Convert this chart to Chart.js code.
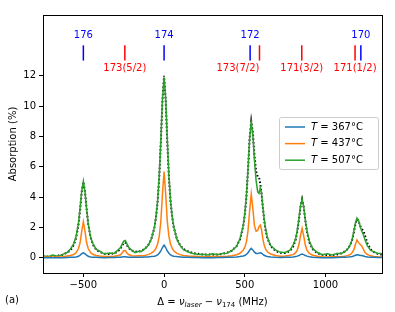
<!DOCTYPE html>
<html>
<head>
<meta charset="utf-8">
<script src="https://cdn.jsdelivr.net/npm/chart.js@4"></script>
<style>
    html, body { margin: 0; padding: 0; background: #fff; }
    canvas { display: block; }
</style>
</head>
<body>
<canvas id="absorptionChart" width="395" height="312"></canvas>
<script>
// detuning from the 174 line (MHz), shared by every curve
const detuning = [
    -750, -720, -690, -660, -630, -600, -580,
    -560, -545, -530, -520, -510, -500, -490, -480, -470, -455, -440, -420,
    -400, -370, -340, -310, -290,
    -270, -260, -250, -240, -230, -220, -200,
    -180, -160, -140, -120,
    -100, -80, -60, -50, -40, -30, -20, -10,
    0,
    10, 20, 30, 40, 50, 60, 80, 100,
    120, 150, 180, 210, 240, 270, 300, 330, 360, 390, 420, 450,
    470, 490, 500, 510, 520, 530,
    540,
    550, 560, 570, 580, 588, 596, 604, 612, 620, 630, 640, 660, 690,
    720, 750, 780,
    800, 815, 825, 835, 845, 855, 865, 875, 885, 900, 920,
    950, 980, 1010, 1040, 1070, 1100, 1120,
    1140, 1155, 1165, 1175, 1185, 1195, 1205, 1215, 1225, 1235, 1245, 1260, 1280,
    1300, 1325, 1350
];

// absorption (%) at T = 367 °C
const absorption367 = [
    0.00, 0.01, 0.00, 0.01, 0.01, 0.02, 0.03,
    0.04, 0.06, 0.10, 0.17, 0.27, 0.33, 0.27, 0.17, 0.10, 0.06, 0.04, 0.03,
    0.02, 0.01, 0.02, 0.02, 0.03,
    0.04, 0.06, 0.07, 0.07, 0.06, 0.04, 0.03,
    0.03, 0.03, 0.04, 0.05,
    0.06, 0.08, 0.11, 0.14, 0.19, 0.30, 0.45, 0.68,
    0.84,
    0.68, 0.45, 0.30, 0.19, 0.14, 0.11, 0.08, 0.06,
    0.04, 0.03, 0.02, 0.02, 0.01, 0.02, 0.01, 0.02, 0.02, 0.03, 0.04, 0.06,
    0.08, 0.12, 0.15, 0.22, 0.33, 0.50,
    0.62,
    0.52, 0.37, 0.29, 0.28, 0.31, 0.33, 0.30, 0.23, 0.17, 0.12, 0.09, 0.05, 0.03,
    0.02, 0.03, 0.04,
    0.06, 0.08, 0.11, 0.15, 0.21, 0.25, 0.21, 0.15, 0.11, 0.07, 0.04,
    0.02, 0.01, 0.01, 0.01, 0.02, 0.03, 0.04,
    0.05, 0.07, 0.09, 0.12, 0.17, 0.20, 0.19, 0.16, 0.15, 0.12, 0.09, 0.06, 0.04,
    0.03, 0.02, 0.02
];

// absorption (%) at T = 437 °C
const absorption437 = [
    0.05, 0.04, 0.06, 0.05, 0.07, 0.12, 0.15,
    0.22, 0.34, 0.61, 1.01, 1.76, 2.38, 1.76, 1.01, 0.61, 0.34, 0.22, 0.15,
    0.12, 0.09, 0.08, 0.10, 0.13,
    0.20, 0.31, 0.47, 0.48, 0.32, 0.22, 0.14,
    0.12, 0.13, 0.13, 0.16,
    0.21, 0.29, 0.46, 0.63, 0.91, 1.41, 2.40, 4.21,
    5.68,
    4.21, 2.40, 1.41, 0.91, 0.63, 0.46, 0.29, 0.21,
    0.16, 0.12, 0.10, 0.08, 0.07, 0.07, 0.08, 0.08, 0.09, 0.11, 0.14, 0.20,
    0.30, 0.50, 0.68, 1.05, 1.78, 3.10,
    4.20,
    3.25, 2.10, 1.75, 1.80, 2.05, 2.16, 1.85, 1.25, 0.85, 0.55, 0.40, 0.25, 0.15,
    0.11, 0.12, 0.17,
    0.21, 0.34, 0.51, 0.84, 1.45, 1.94, 1.45, 0.84, 0.51, 0.29, 0.17,
    0.10, 0.07, 0.06, 0.07, 0.07, 0.09, 0.11,
    0.16, 0.23, 0.34, 0.52, 0.88, 1.18, 1.00, 0.88, 0.78, 0.55, 0.35, 0.21, 0.13,
    0.09, 0.07, 0.06
];

// absorption (%) at T = 507 °C (noisy measurement)
const absorption507 = [
    0.14, 0.07, 0.18, 0.10, 0.21, 0.36, 0.58,
    0.92, 1.40, 2.30, 3.30, 4.40, 5.05, 4.35, 3.25, 2.25, 1.35, 0.92, 0.55,
    0.45, 0.25, 0.32, 0.29, 0.47,
    0.68, 0.90, 1.10, 1.14, 0.92, 0.70, 0.49,
    0.34, 0.43, 0.42, 0.59,
    0.80, 1.20, 2.00, 2.70, 3.75, 5.40, 7.75, 10.45,
    11.90,
    10.50, 7.80, 5.40, 3.80, 2.75, 2.05, 1.20, 0.80,
    0.54, 0.38, 0.29, 0.22, 0.23, 0.19, 0.26, 0.20, 0.29, 0.30, 0.48, 0.76,
    1.25, 2.10, 2.90, 4.10, 5.85, 7.85,
    8.95,
    8.10, 6.40, 5.10, 4.35, 4.25, 4.60, 4.25, 3.35, 2.55, 1.85, 1.35, 0.80, 0.52,
    0.36, 0.35, 0.50,
    0.85, 1.25, 1.80, 2.55, 3.40, 3.88, 3.35, 2.50, 1.80, 1.10, 0.62,
    0.35, 0.20, 0.27, 0.18, 0.28, 0.29, 0.40,
    0.61, 0.90, 1.22, 1.72, 2.28, 2.62, 2.45, 2.06, 1.75, 1.50, 1.17, 0.79, 0.49,
    0.40, 0.28, 0.29
];

// fitted model for T = 507 °C (black dotted)
const fit507 = [
    0.06, 0.08, 0.10, 0.14, 0.20, 0.34, 0.50,
    0.83, 1.31, 2.21, 3.20, 4.35, 5.00, 4.37, 3.23, 2.24, 1.34, 0.86, 0.53,
    0.39, 0.27, 0.25, 0.29, 0.39,
    0.60, 0.80, 0.99, 1.01, 0.83, 0.64, 0.48,
    0.41, 0.40, 0.46, 0.60,
    0.80, 1.20, 1.98, 2.67, 3.70, 5.28, 7.62, 10.37,
    12.00,
    10.40, 7.65, 5.30, 3.72, 2.70, 2.00, 1.22, 0.82,
    0.58, 0.42, 0.31, 0.27, 0.22, 0.22, 0.21, 0.22, 0.26, 0.34, 0.47, 0.78,
    1.20, 2.05, 2.83, 4.00, 5.78, 7.88,
    9.00,
    8.25, 6.75, 5.70, 5.35, 5.30, 4.90, 4.20, 3.30, 2.50, 1.75, 1.28, 0.78, 0.46,
    0.33, 0.32, 0.45,
    0.75, 1.20, 1.72, 2.47, 3.35, 3.85, 3.35, 2.47, 1.72, 1.02, 0.58,
    0.30, 0.20, 0.17, 0.18, 0.22, 0.30, 0.42,
    0.60, 0.88, 1.18, 1.65, 2.20, 2.55, 2.42, 2.10, 1.90, 1.78, 1.45, 0.95, 0.55,
    0.38, 0.26, 0.20
];

const temperatures = ['367', '437', '507'];

// bosonic isotope lines (blue) and 173/171 hyperfine lines (red), MHz
const isotopeNames = ['176', '174', '172', '170'];
const isotopeShifts = [-500, 0, 533, 1219];
const hyperfineNames = ['173(5/2)', '173(7/2)', '171(3/2)', '171(1/2)'];
const hyperfineShifts = [-243, 591, 853, 1183];

const xTicks = [-500, 0, 500, 1000];
const yTicks = [0, 2, 4, 6, 8, 10, 12];

const FONT = '"DejaVu Sans", sans-serif';
const COLORS = ['#1f77b4', '#ff7f0e', '#2ca02c'];

function toPoints(ys) {
    return detuning.map((x, i) => ({ x: x, y: ys[i] }));
}

// draws a run of text pieces (font / vertical offset each), centred on cx or starting at it
function drawPieces(ctx, pieces, cx, y, align) {
    ctx.textAlign = 'left';
    let total = 0;
    pieces.forEach(p => { ctx.font = p.font; total += ctx.measureText(p.text).width; });
    let x = align === 'left' ? cx : cx - total / 2;
    pieces.forEach(p => {
        ctx.font = p.font;
        ctx.fillText(p.text, x, y + (p.dy || 0));
        x += ctx.measureText(p.text).width;
    });
}

const decorations = {
    id: 'decorations',
    afterDatasetsDraw(chart) {
        const ctx = chart.ctx;
        const xs = chart.scales.x;
        const ys = chart.scales.y;
        const area = chart.chartArea;
        ctx.save();

        // marker ticks for the isotopes
        ctx.lineWidth = 1.5;
        ctx.textBaseline = 'middle';
        ctx.font = '10px ' + FONT;
        isotopeShifts.forEach((s, i) => {
            const px = xs.getPixelForValue(s);
            ctx.strokeStyle = '#0000ff';
            ctx.beginPath();
            ctx.moveTo(px, ys.getPixelForValue(13));
            ctx.lineTo(px, ys.getPixelForValue(14));
            ctx.stroke();
            ctx.fillStyle = '#0000ff';
            ctx.textAlign = 'center';
            ctx.fillText(isotopeNames[i], px, ys.getPixelForValue(14.65));
        });
        hyperfineShifts.forEach((s, i) => {
            const px = xs.getPixelForValue(s);
            ctx.strokeStyle = '#ff0000';
            ctx.beginPath();
            ctx.moveTo(px, ys.getPixelForValue(13));
            ctx.lineTo(px, ys.getPixelForValue(14));
            ctx.stroke();
            ctx.fillStyle = '#ff0000';
            // 173(7/2) sits right next to 172, so its label ends at the line
            ctx.textAlign = hyperfineNames[i] === '173(7/2)' ? 'right' : 'center';
            ctx.fillText(hyperfineNames[i], px, ys.getPixelForValue(12.5));
        });

        // legend box
        const lx = 279.5, ly = 117.5, lw = 99, lh = 52;
        ctx.beginPath();
        ctx.roundRect(lx, ly, lw, lh, 2);
        ctx.fillStyle = 'rgba(255,255,255,0.8)';
        ctx.fill();
        ctx.strokeStyle = '#cccccc';
        ctx.lineWidth = 1;
        ctx.stroke();
        temperatures.forEach((t, i) => {
            const y = 127 + i * 16.6;
            ctx.strokeStyle = COLORS[i];
            ctx.lineWidth = 1.5;
            ctx.beginPath();
            ctx.moveTo(285, y);
            ctx.lineTo(305, y);
            ctx.stroke();
            ctx.fillStyle = '#000';
            ctx.textBaseline = 'middle';
            drawPieces(ctx, [
                { text: 'T', font: 'italic 10px ' + FONT },
                { text: ' = ' + t + '\u00b0C', font: '10px ' + FONT }
            ], 311, y, 'left');
        });

        // axes frame
        ctx.strokeStyle = '#000';
        ctx.lineWidth = 1;
        ctx.strokeRect(Math.round(area.left) + 0.5, Math.round(area.top) + 0.5,
            Math.round(area.right - area.left), Math.round(area.bottom - area.top));

        // axis titles
        ctx.fillStyle = '#000';
        ctx.textBaseline = 'alphabetic';
        drawPieces(ctx, [
            { text: '\u0394 = ', font: '10px ' + FONT },
            { text: '\u03bd', font: 'italic 10px ' + FONT },
            { text: 'laser', font: 'italic 7px ' + FONT, dy: 2 },
            { text: ' \u2212 ', font: '10px ' + FONT },
            { text: '\u03bd', font: 'italic 10px ' + FONT },
            { text: '174', font: '7px ' + FONT, dy: 2 },
            { text: ' (MHz)', font: '10px ' + FONT }
        ], (area.left + area.right) / 2, 305);

        ctx.save();
        ctx.translate(13, (area.top + area.bottom) / 2);
        ctx.rotate(-Math.PI / 2);
        ctx.textAlign = 'center';
        ctx.textBaseline = 'middle';
        ctx.font = '10px ' + FONT;
        ctx.fillText('Absorption (%)', 0, 0);
        ctx.restore();

        ctx.textAlign = 'left';
        ctx.textBaseline = 'middle';
        ctx.font = '10px ' + FONT;
        ctx.fillText('(a)', 5, 300);
        ctx.restore();
    }
};

function tickLabel(v) {
    return String(v).replace('-', '\u2212');
}

const chartEl = document.getElementById('absorptionChart').getContext('2d');

const lineStyle = { pointRadius: 0, borderWidth: 1.5, tension: 0, fill: false };

new Chart(chartEl, {
    type: 'line',
    data: {
        datasets: [
            Object.assign({ label: 'T = 367°C', data: toPoints(absorption367), borderColor: COLORS[0] }, lineStyle),
            Object.assign({ label: 'T = 437°C', data: toPoints(absorption437), borderColor: COLORS[1] }, lineStyle),
            Object.assign({ label: 'T = 507°C', data: toPoints(absorption507), borderColor: COLORS[2] }, lineStyle),
            Object.assign({ label: 'fit', data: toPoints(fit507), borderColor: '#000000', borderDash: [1.5, 2.2] }, lineStyle, { borderWidth: 2 })
        ]
    },
    options: {
        responsive: false,
        animation: false,
        devicePixelRatio: 1,
        layout: { padding: { left: 0, right: 13, top: 15, bottom: 0 } },
        plugins: {
            legend: { display: false },
            tooltip: { enabled: false }
        },
        scales: {
            x: {
                type: 'linear',
                min: -750,
                max: 1350,
                afterBuildTicks: axis => { axis.ticks = xTicks.map(v => ({ value: v })); },
                afterFit: axis => { axis.height = 39; },
                grid: { drawOnChartArea: false, drawTicks: true, tickLength: 4, tickColor: '#000' },
                border: { display: false },
                ticks: { color: '#000', font: { family: FONT, size: 10 }, padding: 2, maxRotation: 0, callback: tickLabel }
            },
            y: {
                type: 'linear',
                min: -1,
                max: 16,
                afterBuildTicks: axis => { axis.ticks = yTicks.map(v => ({ value: v })); },
                afterFit: axis => { axis.width = 43; },
                grid: { drawOnChartArea: false, drawTicks: true, tickLength: 4, tickColor: '#000' },
                border: { display: false },
                ticks: { color: '#000', font: { family: FONT, size: 10 }, padding: 3, callback: tickLabel }
            }
        }
    },
    plugins: [decorations]
});
</script>
</body>
</html>
